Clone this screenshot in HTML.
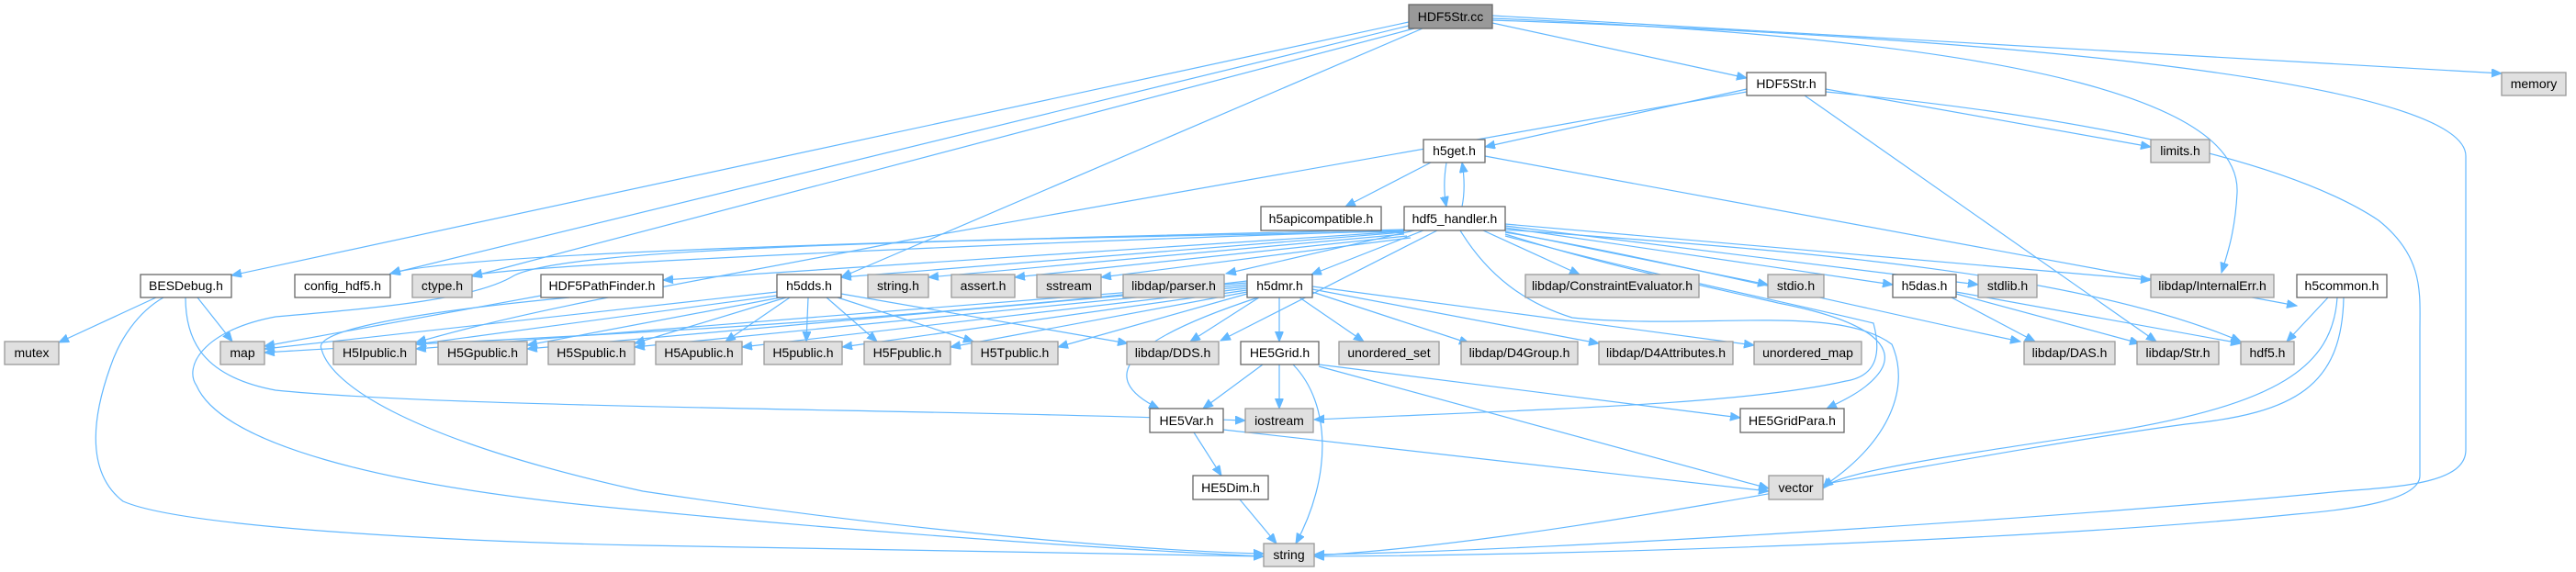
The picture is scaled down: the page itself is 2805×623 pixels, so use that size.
<!DOCTYPE html>
<html><head><meta charset="utf-8"><style>
html,body{margin:0;padding:0;background:#fff;}
svg{display:block;}
text{font-family:"Liberation Sans",sans-serif;font-size:14px;fill:#000;}
.w{fill:#fff;stroke:#666;stroke-width:1.3;}
.g{fill:#e0e0e0;stroke:#999;stroke-width:1.3;}
.d{fill:#999;stroke:#666;stroke-width:1.3;}
.e{fill:none;stroke:#63b8ff;stroke-width:1.2;marker-end:url(#a);}
</style></head><body>
<svg width="2805" height="623" viewBox="0 0 2805 623" xmlns="http://www.w3.org/2000/svg">
<defs><marker id="a" markerUnits="userSpaceOnUse" markerWidth="12" markerHeight="10" refX="11" refY="4.5" orient="auto"><path d="M0,0 L11,4.5 L0,9 z" fill="#63b8ff" stroke="#63b8ff"/></marker></defs>
<g>
<!-- HDF5Str.cc -->
<path class="e" d="M1534,24 L252,300"/>
<path class="e" d="M1534,28 L425,298"/>
<path class="e" d="M1540,31 L514,301"/>
<path class="e" d="M1549,31 L916,302"/>
<path class="e" d="M1625,25 L1902,85"/>
<path class="e" d="M1625,17 L2724,80"/>
<path class="e" d="M1625,20 C2250,45 2440,120 2436,210 C2434,250 2426,275 2419,297"/>
<path class="e" d="M1625,22 C2300,45 2685,100 2685,170 L2685,490 C2685,525 2620,530 2550,535 C2300,560 1700,600 1431,604"/>
<!-- HDF5Str.h -->
<path class="e" d="M1902,97 L1617,160"/>
<path class="e" d="M1988,97 L2342,160"/>
<path class="e" d="M1965,104 L2348,372"/>
<path class="e" d="M1988,100 C2300,130 2500,180 2590,240 C2640,280 2635,320 2635,360 L2635,518 C2635,545 2560,555 2500,560 C2200,590 1700,605 1431,606"/>
<path class="e" d="M1902,100 L986,262 C800,300 600,330 453,373"/>
<!-- h5get -->
<path class="e" d="M1558,177 L1465,225"/>
<path class="e" d="M1575,177 C1572,195 1572,210 1575,225"/>
<path class="e" d="M1592,225 C1595,210 1595,195 1592,177"/>
<path class="e" d="M1617,170 L2501,333"/>
<!-- hdf5_handler -->
<path class="e" d="M1529,250 C1000,262 500,275 425,298"/>
<path class="e" d="M1529,251 C1000,268 560,290 514,300"/>
<path class="e" d="M1529,252 L722,305"/>
<path class="e" d="M1529,253 L916,302"/>
<path class="e" d="M1529,255 L1011,302"/>
<path class="e" d="M1532,257 L1105,302"/>
<path class="e" d="M1536,259 L1199,302"/>
<path class="e" d="M1540,251 L1335,298"/>
<path class="e" d="M1550,251 L1428,299"/>
<path class="e" d="M1615,251 L1720,299"/>
<path class="e" d="M1639,252 L1925,310"/>
<path class="e" d="M1639,248 L2061,310"/>
<path class="e" d="M1639,246 L2154,310"/>
<path class="e" d="M1639,244 L2342,305"/>
<path class="e" d="M1639,250 C1900,270 2250,290 2440,372"/>
<path class="e" d="M1639,253 C1800,280 2000,330 2200,372"/>
<path class="e" d="M1565,251 L1329,371"/>
<path class="e" d="M1529,252 C1000,262 620,270 560,300 C520,325 420,335 300,345 C220,360 200,400 214,420 C240,480 400,530 700,556 C1000,585 1250,600 1376,606"/>
<path class="e" d="M1590,251 C1620,300 1660,330 1712,346 C1850,360 2000,330 2060,375 C2080,420 2060,480 1985,530"/>
<path class="e" d="M1639,255 C1750,290 1850,310 1936,330 C2040,350 2070,380 2043,410 C2030,425 2010,435 1989,445"/>
<path class="e" d="M1639,257 C1800,300 1950,330 2040,352 C2050,390 2040,410 2010,415 C1900,440 1700,445 1431,457"/>
<!-- BESDebug -->
<path class="e" d="M170,324 L64,373"/>
<path class="e" d="M215,324 L253,372"/>
<path class="e" d="M202,324 C202,370 220,410 300,425 C500,445 1000,445 1356,458"/>
<path class="e" d="M178,324 C150,340 130,370 120,400 C95,470 100,520 134,546 C200,575 500,590 700,594 L1376,606"/>
<!-- HDF5PathFinder -->
<path class="e" d="M589,322 L288,377"/>
<path class="e" d="M620,324 C450,340 340,360 350,380 C360,420 450,480 700,535 C1000,580 1250,600 1376,603"/>
<!-- h5dds -->
<path class="e" d="M846,318 L288,380"/>
<path class="e" d="M846,322 L453,375"/>
<path class="e" d="M850,324 L574,376"/>
<path class="e" d="M856,324 L691,374"/>
<path class="e" d="M860,324 L790,372"/>
<path class="e" d="M880,324 L878,372"/>
<path class="e" d="M900,324 L955,372"/>
<path class="e" d="M912,324 L1060,372"/>
<path class="e" d="M916,320 L1228,374"/>
<!-- h5dmr -->
<path class="e" d="M1358,306 C900,360 500,370 288,384"/>
<path class="e" d="M1358,308 L453,380"/>
<path class="e" d="M1358,310 L574,380"/>
<path class="e" d="M1358,312 L691,378"/>
<path class="e" d="M1358,314 L808,378"/>
<path class="e" d="M1358,316 L917,378"/>
<path class="e" d="M1358,318 L1035,378"/>
<path class="e" d="M1358,320 L1152,378"/>
<path class="e" d="M1371,324 L1296,372"/>
<path class="e" d="M1393,324 L1393,372"/>
<path class="e" d="M1370,324 C1230,370 1190,410 1262,445"/>
<path class="e" d="M1415,324 L1485,372"/>
<path class="e" d="M1429,318 L1600,374"/>
<path class="e" d="M1429,315 L1741,374"/>
<path class="e" d="M1429,312 L1910,376"/>
<!-- HE5Grid -->
<path class="e" d="M1375,397 L1310,445"/>
<path class="e" d="M1393,397 L1393,445"/>
<path class="e" d="M1436,397 L1895,455"/>
<path class="e" d="M1436,399 L1926,532"/>
<path class="e" d="M1408,397 C1450,440 1450,520 1411,592"/>
<!-- HE5Var / HE5Dim -->
<path class="e" d="M1300,471 L1330,518"/>
<path class="e" d="M1332,468 L1926,535"/>
<path class="e" d="M1350,544 L1390,592"/>
<!-- h5das -->
<path class="e" d="M2125,324 L2216,372"/>
<path class="e" d="M2130,320 L2330,374"/>
<path class="e" d="M2130,318 L2440,374"/>
<!-- h5common -->
<path class="e" d="M2535,324 L2490,372"/>
<path class="e" d="M2545,324 C2540,400 2480,440 2300,470 C2100,500 2000,515 1985,532"/>
<path class="e" d="M2552,324 C2550,420 2500,450 2380,462 C2100,500 1700,590 1431,605"/>
</g>
<g>
<rect class="d" x="1534" y="5" width="91" height="26"/><text x="1579.5" y="23" text-anchor="middle">HDF5Str.cc</text>
<rect class="w" x="1902" y="79" width="86" height="25"/><text x="1945" y="96" text-anchor="middle">HDF5Str.h</text>
<rect class="g" x="2724" y="79" width="70" height="25"/><text x="2759" y="96" text-anchor="middle">memory</text>
<rect class="w" x="1550" y="152" width="67" height="25"/><text x="1583.5" y="169" text-anchor="middle">h5get.h</text>
<rect class="g" x="2342" y="152" width="64" height="25"/><text x="2374" y="169" text-anchor="middle">limits.h</text>
<rect class="w" x="1373" y="225" width="131" height="26"/><text x="1438.5" y="243" text-anchor="middle">h5apicompatible.h</text>
<rect class="w" x="1529" y="225" width="110" height="26"/><text x="1584" y="243" text-anchor="middle">hdf5_handler.h</text>

<rect class="w" x="153" y="299" width="99" height="25"/><text x="202.5" y="316" text-anchor="middle">BESDebug.h</text>
<rect class="w" x="321" y="299" width="104" height="25"/><text x="373" y="316" text-anchor="middle">config_hdf5.h</text>
<rect class="g" x="449" y="299" width="65" height="25"/><text x="481.5" y="316" text-anchor="middle">ctype.h</text>
<rect class="w" x="589" y="299" width="133" height="25"/><text x="655.5" y="316" text-anchor="middle">HDF5PathFinder.h</text>
<rect class="w" x="846" y="299" width="70" height="25"/><text x="881" y="316" text-anchor="middle">h5dds.h</text>
<rect class="g" x="945" y="299" width="66" height="25"/><text x="978" y="316" text-anchor="middle">string.h</text>
<rect class="g" x="1036" y="299" width="69" height="25"/><text x="1070.5" y="316" text-anchor="middle">assert.h</text>
<rect class="g" x="1129" y="299" width="70" height="25"/><text x="1164" y="316" text-anchor="middle">sstream</text>
<rect class="g" x="1223" y="299" width="110" height="25"/><text x="1278" y="316" text-anchor="middle">libdap/parser.h</text>
<rect class="w" x="1358" y="299" width="71" height="25"/><text x="1393.5" y="316" text-anchor="middle">h5dmr.h</text>
<rect class="g" x="1661" y="299" width="189" height="25"/><text x="1755.5" y="316" text-anchor="middle">libdap/ConstraintEvaluator.h</text>
<rect class="g" x="1925" y="299" width="61" height="25"/><text x="1955.5" y="316" text-anchor="middle">stdio.h</text>
<rect class="w" x="2061" y="299" width="69" height="25"/><text x="2095.5" y="316" text-anchor="middle">h5das.h</text>
<rect class="g" x="2154" y="299" width="64" height="25"/><text x="2186" y="316" text-anchor="middle">stdlib.h</text>
<rect class="g" x="2342" y="299" width="134" height="25"/><text x="2409" y="316" text-anchor="middle">libdap/InternalErr.h</text>
<rect class="w" x="2501" y="299" width="98" height="25"/><text x="2550" y="316" text-anchor="middle">h5common.h</text>

<rect class="g" x="5" y="372" width="59" height="25"/><text x="34.5" y="389" text-anchor="middle">mutex</text>
<rect class="g" x="240" y="372" width="48" height="25"/><text x="264" y="389" text-anchor="middle">map</text>
<rect class="g" x="363" y="372" width="90" height="25"/><text x="408" y="389" text-anchor="middle">H5Ipublic.h</text>
<rect class="g" x="477" y="372" width="97" height="25"/><text x="525.5" y="389" text-anchor="middle">H5Gpublic.h</text>
<rect class="g" x="597" y="372" width="94" height="25"/><text x="644" y="389" text-anchor="middle">H5Spublic.h</text>
<rect class="g" x="714" y="372" width="94" height="25"/><text x="761" y="389" text-anchor="middle">H5Apublic.h</text>
<rect class="g" x="832" y="372" width="85" height="25"/><text x="874.5" y="389" text-anchor="middle">H5public.h</text>
<rect class="g" x="941" y="372" width="94" height="25"/><text x="988" y="389" text-anchor="middle">H5Fpublic.h</text>
<rect class="g" x="1058" y="372" width="94" height="25"/><text x="1105" y="389" text-anchor="middle">H5Tpublic.h</text>
<rect class="g" x="1227" y="372" width="100" height="25"/><text x="1277" y="389" text-anchor="middle">libdap/DDS.h</text>
<rect class="w" x="1351" y="372" width="85" height="25"/><text x="1393.5" y="389" text-anchor="middle">HE5Grid.h</text>
<rect class="g" x="1458" y="372" width="109" height="25"/><text x="1512.5" y="389" text-anchor="middle">unordered_set</text>
<rect class="g" x="1591" y="372" width="127" height="25"/><text x="1654.5" y="389" text-anchor="middle">libdap/D4Group.h</text>
<rect class="g" x="1741" y="372" width="146" height="25"/><text x="1814" y="389" text-anchor="middle">libdap/D4Attributes.h</text>
<rect class="g" x="1910" y="372" width="117" height="25"/><text x="1968.5" y="389" text-anchor="middle">unordered_map</text>
<rect class="g" x="2204" y="372" width="99" height="25"/><text x="2253.5" y="389" text-anchor="middle">libdap/DAS.h</text>
<rect class="g" x="2327" y="372" width="89" height="25"/><text x="2371.5" y="389" text-anchor="middle">libdap/Str.h</text>
<rect class="g" x="2440" y="372" width="58" height="25"/><text x="2469" y="389" text-anchor="middle">hdf5.h</text>

<rect class="w" x="1252" y="445" width="80" height="26"/><text x="1292" y="463" text-anchor="middle">HE5Var.h</text>
<rect class="g" x="1356" y="445" width="74" height="26"/><text x="1393" y="463" text-anchor="middle">iostream</text>
<rect class="w" x="1895" y="445" width="113" height="26"/><text x="1951.5" y="463" text-anchor="middle">HE5GridPara.h</text>
<rect class="w" x="1299" y="518" width="82" height="26"/><text x="1340" y="536" text-anchor="middle">HE5Dim.h</text>
<rect class="g" x="1926" y="518" width="59" height="26"/><text x="1955.5" y="536" text-anchor="middle">vector</text>
<rect class="g" x="1376" y="592" width="55" height="25"/><text x="1403.5" y="609" text-anchor="middle">string</text>
</g>
</svg>
</body></html>
